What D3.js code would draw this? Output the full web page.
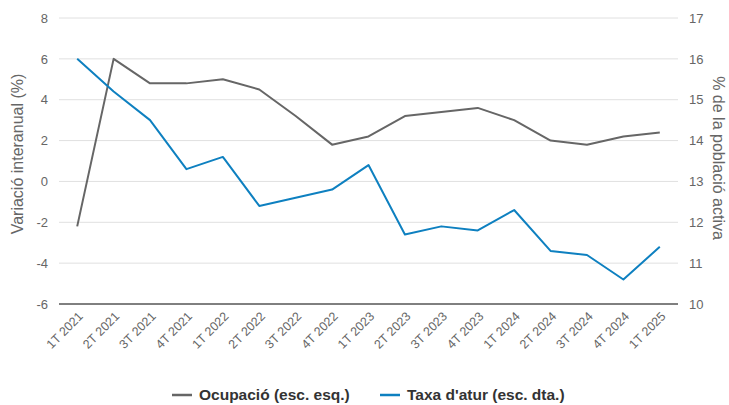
<!DOCTYPE html>
<html>
<head>
<meta charset="utf-8">
<script src="https://cdn.jsdelivr.net/npm/d3@7"></script>
<style>
  body { margin: 0; background: #fff; }
  svg { font-family: "Liberation Sans", Arial, sans-serif; display: block; }
</style>
</head>
<body>
<svg id="chart" width="729" height="405"></svg>
<script>
// Quarters, left-axis series (ocupació) and right-axis series (atur)
const quarters = ['1T 2021','2T 2021','3T 2021','4T 2021','1T 2022','2T 2022','3T 2022','4T 2022',
  '1T 2023','2T 2023','3T 2023','4T 2023','1T 2024','2T 2024','3T 2024','4T 2024','1T 2025'];
const ocupacio = [-2.2, 6.0, 4.8, 4.8, 5.0, 4.5, 3.2, 1.8, 2.2, 3.2, 3.4, 3.6, 3.0, 2.0, 1.8, 2.2, 2.4];
const atur = [16.0, 15.2, 14.5, 13.3, 13.6, 12.4, 12.6, 12.8, 13.4, 11.7, 11.9, 11.8, 12.3, 11.3, 11.2, 10.6, 11.4];
const leftTicks = [-6, -4, -2, 0, 2, 4, 6, 8];
const rightTicks = [10, 11, 12, 13, 14, 15, 16, 17];

const grey = '#666666';
const blue = '#0e80c0';
const tickFmt = d => String(d); // plain hyphen for negatives

const svg = d3.select('#chart');
const plotLeft = 59, plotRight = 678, plotTop = 18, plotBottom = 304;

const x = d3.scalePoint().domain(quarters).range([plotLeft, plotRight]).padding(0.5);
const yL = d3.scaleLinear().domain([-6, 8]).range([plotBottom, plotTop]);
const yR = d3.scaleLinear().domain([10, 17]).range([plotBottom, plotTop]);

// gridlines
svg.append('g').selectAll('line')
  .data(leftTicks.slice(1))
  .join('line')
  .attr('x1', plotLeft).attr('x2', plotRight)
  .attr('y1', d => yL(d)).attr('y2', d => yL(d))
  .attr('stroke', '#e0e0e0').attr('stroke-width', 1);

// left axis labels
const axL = svg.append('g').attr('transform', `translate(${plotLeft},0)`)
  .call(d3.axisLeft(yL).tickValues(leftTicks).tickFormat(tickFmt).tickSize(0).tickPadding(11));
axL.select('.domain').remove();
axL.selectAll('text').attr('fill', grey).style('font-size', '13px');

// right axis labels
const axR = svg.append('g').attr('transform', `translate(${plotRight},0)`)
  .call(d3.axisRight(yR).tickValues(rightTicks).tickFormat(tickFmt).tickSize(0).tickPadding(11));
axR.select('.domain').remove();
axR.selectAll('text').attr('fill', grey).style('font-size', '13px');

// x axis
const axX = svg.append('g').attr('transform', `translate(0,${plotBottom})`)
  .call(d3.axisBottom(x).tickSize(0));
axX.select('.domain').attr('stroke', '#000').attr('d', `M${plotLeft},0H${plotRight}`);
axX.selectAll('text')
  .attr('fill', grey).style('font-size', '12.5px')
  .attr('text-anchor', 'end')
  .attr('x', 0).attr('y', 0)
  .attr('dy', '0.35em')
  .attr('transform', 'translate(3,10) rotate(-45)');

// axis titles
const midY = 154;
svg.append('text')
  .attr('transform', `translate(23,${midY}) rotate(-90)`)
  .attr('text-anchor', 'middle')
  .attr('fill', grey).style('font-size', '16px')
  .text('Variació interanual (%)');
svg.append('text')
  .attr('transform', `translate(713,${midY + 4}) rotate(90)`)
  .attr('text-anchor', 'middle')
  .attr('fill', grey).style('font-size', '16px')
  .text('% de la població activa');

// lines
const lineL = d3.line().x((d, i) => x(quarters[i])).y(d => yL(d));
const lineR = d3.line().x((d, i) => x(quarters[i])).y(d => yR(d));

svg.append('path').datum(ocupacio)
  .attr('d', lineL).attr('fill', 'none')
  .attr('stroke', grey).attr('stroke-width', 2).attr('stroke-linejoin', 'round');
svg.append('path').datum(atur)
  .attr('d', lineR).attr('fill', 'none')
  .attr('stroke', blue).attr('stroke-width', 2).attr('stroke-linejoin', 'round');

// legend
const legend = [
  { label: 'Ocupació (esc. esq.)', color: grey, x: 172 },
  { label: "Taxa d'atur (esc. dta.)", color: blue, x: 380 }
];
const lg = svg.append('g').selectAll('g').data(legend).join('g')
  .attr('transform', d => `translate(${d.x},395)`);
lg.append('line').attr('x1', 0).attr('x2', 20)
  .attr('stroke', d => d.color).attr('stroke-width', 2.5);
lg.append('text').attr('x', 27).attr('dy', '0.35em')
  .style('font-size', '15.5px').style('font-weight', 'bold').attr('fill', '#333')
  .text(d => d.label);
</script>
</body>
</html>
